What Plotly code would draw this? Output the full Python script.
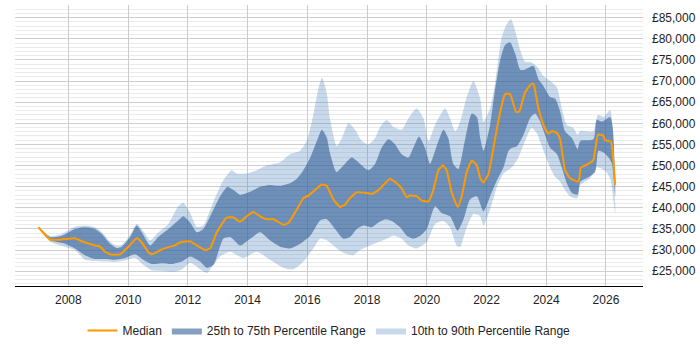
import plotly.graph_objects as go

# ---------------- data (decimal years, GBP) ----------------
median_x = [2007.0, 2007.39, 2007.78, 2008.22, 2008.45, 2008.89, 2009.06, 2009.23, 2009.45, 2009.73, 2010.01, 2010.29, 2010.46, 2010.68, 2010.79, 2010.96, 2011.18, 2011.35, 2011.57, 2011.74, 2012.08, 2012.30, 2012.58, 2012.75, 2012.97, 2013.30, 2013.53, 2013.75, 2013.97, 2014.20, 2014.42, 2014.64, 2014.87, 2015.20, 2015.37, 2015.65, 2015.87, 2016.04, 2016.32, 2016.49, 2016.65, 2016.88, 2017.10, 2017.27, 2017.43, 2017.66, 2017.99, 2018.16, 2018.38, 2018.55, 2018.77, 2018.94, 2019.16, 2019.33, 2019.44, 2019.67, 2019.83, 2020.06, 2020.22, 2020.39, 2020.54, 2020.67, 2020.84, 2021.04, 2021.17, 2021.34, 2021.51, 2021.68, 2021.79, 2021.90, 2022.07, 2022.29, 2022.46, 2022.62, 2022.79, 2022.99, 2023.10, 2023.29, 2023.46, 2023.57, 2023.74, 2023.91, 2024.07, 2024.19, 2024.36, 2024.47, 2024.63, 2024.80, 2025.08, 2025.16, 2025.41, 2025.58, 2025.73, 2025.90, 2025.97, 2026.16, 2026.31]
median_y = [35400, 32500, 32500, 32800, 32100, 31100, 30800, 29600, 28900, 29000, 30800, 32800, 31800, 29500, 29000, 29500, 30300, 30700, 31100, 31800, 32100, 31100, 30000, 30400, 34200, 37700, 37700, 36700, 38000, 39000, 38000, 37300, 37300, 36000, 36400, 39600, 42300, 42900, 44600, 45500, 45200, 41900, 40200, 40800, 42300, 43700, 43500, 43300, 44200, 45400, 46900, 46100, 44600, 42500, 42900, 42700, 41700, 41500, 44200, 48900, 50100, 48800, 43500, 40200, 42700, 48500, 51200, 50000, 47000, 46000, 48100, 56500, 62700, 66900, 66900, 62700, 62800, 67300, 69000, 69400, 63500, 59600, 57500, 58200, 57700, 56100, 48900, 47000, 46200, 49500, 50400, 51300, 57300, 57200, 56000, 55700, 45400]

p75_x = [2007.0, 2007.39, 2007.78, 2008.22, 2008.56, 2008.89, 2009.12, 2009.40, 2009.62, 2009.79, 2010.07, 2010.29, 2010.46, 2010.74, 2011.01, 2011.35, 2011.68, 2011.85, 2012.08, 2012.30, 2012.52, 2012.86, 2013.08, 2013.33, 2013.53, 2013.75, 2014.09, 2014.42, 2014.75, 2015.09, 2015.42, 2015.65, 2015.87, 2016.10, 2016.32, 2016.49, 2016.65, 2016.76, 2016.98, 2017.21, 2017.49, 2017.77, 2018.05, 2018.27, 2018.49, 2018.72, 2018.94, 2019.16, 2019.39, 2019.55, 2019.74, 2019.94, 2020.11, 2020.28, 2020.56, 2020.72, 2020.89, 2021.06, 2021.23, 2021.51, 2021.68, 2021.79, 2021.90, 2022.12, 2022.29, 2022.46, 2022.62, 2022.79, 2022.96, 2023.13, 2023.29, 2023.57, 2023.74, 2023.91, 2024.13, 2024.30, 2024.47, 2024.63, 2024.86, 2025.05, 2025.14, 2025.58, 2025.69, 2025.86, 2025.97, 2026.14, 2026.23, 2026.31]
p75_y = [35400, 33100, 33400, 35000, 35400, 35000, 33800, 31500, 30500, 30800, 33100, 35800, 34200, 31100, 33100, 35000, 37000, 38000, 36500, 34200, 35000, 39600, 42700, 45000, 44200, 43100, 43800, 45000, 45400, 45200, 45800, 46900, 48900, 51900, 55800, 58500, 56700, 53000, 48500, 50000, 51900, 50400, 48900, 50400, 54200, 56200, 55000, 52700, 51900, 54200, 56900, 54200, 50400, 53500, 58500, 56500, 50400, 49200, 54200, 62300, 61500, 56500, 53500, 59600, 68100, 75000, 78500, 79200, 76500, 72700, 72700, 73600, 70400, 68800, 66200, 65800, 62700, 58100, 56500, 53900, 55800, 56200, 60800, 60400, 60800, 61500, 58900, 45800]

p25_x = [2007.0, 2007.39, 2007.89, 2008.22, 2008.56, 2008.89, 2009.23, 2009.56, 2009.90, 2010.23, 2010.51, 2010.79, 2011.13, 2011.46, 2011.80, 2012.08, 2012.41, 2012.64, 2012.86, 2013.19, 2013.42, 2013.75, 2014.09, 2014.42, 2014.75, 2015.09, 2015.42, 2015.76, 2016.10, 2016.43, 2016.65, 2016.93, 2017.21, 2017.43, 2017.66, 2017.88, 2018.16, 2018.38, 2018.61, 2018.83, 2019.11, 2019.33, 2019.55, 2019.78, 2020.00, 2020.28, 2020.50, 2020.78, 2021.03, 2021.23, 2021.45, 2021.68, 2021.90, 2022.12, 2022.35, 2022.57, 2022.74, 2022.85, 2023.02, 2023.24, 2023.46, 2023.63, 2023.80, 2023.96, 2024.13, 2024.36, 2024.52, 2024.69, 2024.86, 2025.05, 2025.14, 2025.42, 2025.64, 2025.75, 2025.92, 2026.09, 2026.20, 2026.31]
p25_y = [35400, 32300, 31500, 30400, 28800, 27900, 27900, 27700, 28100, 29000, 27700, 26700, 26900, 26700, 27300, 28500, 27300, 25800, 26500, 32700, 33100, 31100, 32700, 34200, 32300, 30800, 30400, 31500, 33400, 37000, 37300, 35000, 32700, 33100, 35000, 35800, 35400, 36500, 37300, 36900, 35400, 33400, 32700, 33400, 35000, 40400, 38800, 38000, 34600, 37300, 42000, 42700, 39200, 42700, 46500, 49600, 53500, 54200, 54600, 57300, 61200, 62300, 60400, 57300, 54200, 52700, 49600, 45800, 43500, 43100, 46200, 47300, 48500, 53500, 53100, 51900, 50400, 42700]

p90_x = [2007.0, 2007.39, 2007.78, 2008.22, 2008.56, 2008.89, 2009.12, 2009.40, 2009.62, 2009.79, 2010.07, 2010.29, 2010.46, 2010.74, 2011.01, 2011.35, 2011.68, 2011.85, 2012.08, 2012.30, 2012.52, 2012.86, 2013.19, 2013.47, 2013.64, 2013.97, 2014.31, 2014.64, 2015.09, 2015.42, 2015.76, 2015.98, 2016.20, 2016.37, 2016.49, 2016.65, 2016.76, 2016.99, 2017.16, 2017.38, 2017.60, 2017.83, 2018.05, 2018.27, 2018.44, 2018.66, 2018.88, 2019.16, 2019.39, 2019.66, 2019.89, 2020.06, 2020.28, 2020.61, 2020.78, 2020.95, 2021.12, 2021.34, 2021.56, 2021.79, 2021.90, 2022.12, 2022.29, 2022.51, 2022.68, 2022.82, 2022.96, 2023.13, 2023.29, 2023.51, 2023.68, 2023.91, 2024.13, 2024.36, 2024.52, 2024.69, 2024.91, 2025.05, 2025.14, 2025.58, 2025.73, 2025.92, 2026.14, 2026.31]
p90_y = [35400, 33300, 33800, 35500, 35800, 35400, 34300, 32000, 31000, 31200, 33600, 36200, 35000, 32300, 34200, 36200, 40400, 41200, 38800, 35500, 35800, 41500, 46500, 48900, 48100, 48100, 48900, 50000, 50800, 52700, 53500, 55800, 61900, 68100, 70800, 67300, 61000, 54600, 56500, 60000, 58500, 55800, 55000, 56500, 59200, 60800, 59200, 58500, 61200, 63500, 61200, 55800, 59600, 63500, 61200, 58100, 60400, 66200, 70000, 65800, 60400, 63500, 69600, 80400, 83500, 84600, 81900, 77300, 74600, 74400, 73500, 71200, 70000, 68500, 63500, 59600, 58900, 57300, 58200, 58100, 62000, 61500, 63100, 41200]

p10_x = [2007.0, 2007.39, 2008.22, 2008.56, 2008.89, 2009.56, 2009.90, 2010.23, 2010.51, 2010.79, 2011.23, 2011.57, 2011.80, 2012.08, 2012.41, 2012.64, 2013.08, 2013.42, 2013.86, 2014.31, 2014.75, 2015.20, 2015.53, 2015.87, 2016.20, 2016.43, 2016.65, 2016.99, 2017.27, 2017.54, 2017.77, 2018.10, 2018.38, 2018.66, 2018.88, 2019.16, 2019.39, 2019.66, 2020.00, 2020.28, 2020.56, 2020.78, 2021.00, 2021.12, 2021.34, 2021.56, 2021.79, 2021.90, 2022.12, 2022.35, 2022.57, 2022.85, 2023.07, 2023.29, 2023.51, 2023.68, 2023.91, 2024.13, 2024.30, 2024.47, 2024.63, 2024.80, 2025.05, 2025.14, 2025.47, 2025.69, 2025.97, 2026.14, 2026.31]
p10_y = [35400, 32000, 30000, 27700, 27400, 27200, 27600, 28100, 26500, 25200, 25000, 24900, 25400, 27000, 25500, 24600, 28500, 29600, 28100, 29600, 27700, 25800, 25400, 27300, 30400, 32700, 32300, 30400, 29200, 28800, 30000, 31100, 31900, 32700, 33400, 32700, 31100, 30400, 31900, 36200, 36900, 35400, 31100, 30800, 35400, 38500, 38000, 35800, 39600, 45000, 48100, 49600, 51900, 55800, 58900, 57700, 53500, 49600, 47300, 46200, 44200, 42700, 42300, 45400, 47000, 49600, 48800, 47000, 38800]

x_ticks = [2008, 2010, 2012, 2014, 2016, 2018, 2020, 2022, 2024, 2026]
y_ticks = [25000, 30000, 35000, 40000, 45000, 50000, 55000, 60000, 65000, 70000, 75000, 80000, 85000]

for a, b in [(median_x, median_y), (p75_x, p75_y), (p25_x, p25_y), (p90_x, p90_y), (p10_x, p10_y)]:
    assert len(a) == len(b), (len(a), len(b))

FONT = "Liberation Sans, Arial, sans-serif"

fig = go.Figure()

fig.add_trace(go.Scatter(
    x=p90_x + p10_x[::-1], y=p90_y + p10_y[::-1],
    fill="toself", fillcolor="rgba(70,130,190,0.30)",
    line=dict(width=0, shape="spline", smoothing=0.6),
    mode="lines", name="10th to 90th Percentile Range", legendrank=3,
    hoverinfo="skip"))

fig.add_trace(go.Scatter(
    x=p75_x + p25_x[::-1], y=p75_y + p25_y[::-1],
    fill="toself", fillcolor="rgba(50,95,150,0.60)",
    line=dict(width=0, shape="spline", smoothing=0.6),
    mode="lines", name="25th to 75th Percentile Range", legendrank=2,
    hoverinfo="skip"))

fig.add_trace(go.Scatter(
    x=median_x, y=median_y, mode="lines", name="Median", legendrank=1,
    line=dict(color="#FF9900", width=2, shape="spline", smoothing=0.4)))

fig.update_layout(
    width=700, height=350,
    margin=dict(l=15, r=57, t=5, b=58),
    paper_bgcolor="white", plot_bgcolor="white",
    font=dict(family=FONT, size=12, color="#222"),
    showlegend=True,
    legend=dict(orientation="h", x=0.5, xanchor="center", y=-0.158, yanchor="middle",
                font=dict(size=12, color="#222"), traceorder="normal"),
    xaxis=dict(range=[2006.215, 2027.24], tickmode="array", tickvals=x_ticks,
               ticktext=[str(v) for v in x_ticks],
               showgrid=True, gridcolor="#cccccc", gridwidth=1, zeroline=False,
               showline=True, linecolor="#000000", linewidth=1, ticks="",
               ticklabelstandoff=3),
    yaxis=dict(range=[21500, 88000], side="right", tickmode="array", tickvals=y_ticks,
               ticktext=["£{:,}".format(v) for v in y_ticks],
               showgrid=True, gridcolor="#cfcfcf", gridwidth=1, zeroline=False,
               showline=False, ticks="", ticklabelstandoff=8,
               minor=dict(dtick=1000, tick0=0, showgrid=True, gridcolor="#ebebeb", gridwidth=1)),
)

fig.write_html("out.html")
